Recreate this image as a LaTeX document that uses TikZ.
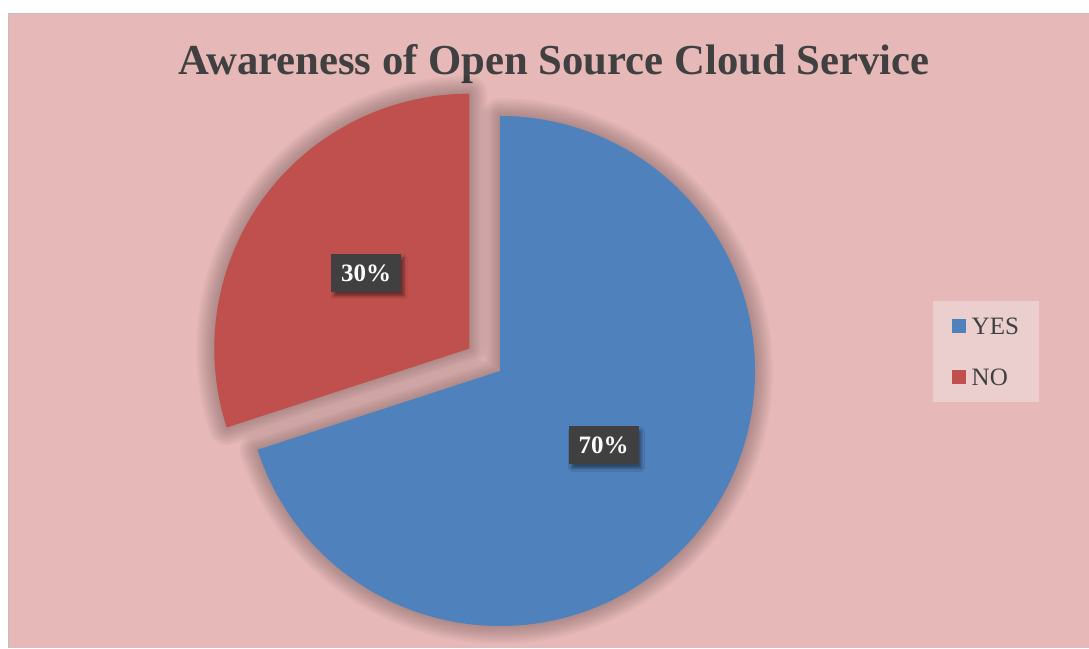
\documentclass[tikz,border=0pt]{standalone}
\usepackage{fontspec}
\setmainfont{Liberation Serif}
\usepackage{xcolor}
\usetikzlibrary{positioning, calc, shadows.blur}

\definecolor{chartbg}{HTML}{E6B8B7}
\definecolor{yesblue}{HTML}{4F81BD}
\definecolor{nored}{HTML}{C0504D}
\definecolor{inkgray}{HTML}{404040}
\definecolor{keybg}{HTML}{EBCFCF}
\definecolor{framegray}{HTML}{BFBFBF}

% slice outlines, centre at (500,277), radius 255
\newcommand\yesslice{(500,277) -- ++(90:255) arc[start angle=90, end angle=-162, radius=255] -- cycle}
\newcommand\noslice{($(500,277)+(144:38)$) -- ++(90:255) arc[start angle=90, end angle=198, radius=255] -- cycle}

\begin{document}
\begin{tikzpicture}[x=1pt, y=1pt,
		pctlabel/.style={fill=inkgray, text=white, font=\fontsize{25}{25}\selectfont\bfseries,
			minimum width=70pt, minimum height=38pt, inner sep=0pt,
			blur shadow={shadow xshift=3pt, shadow yshift=-4pt, shadow blur radius=3pt, shadow opacity=45}},
		keysquare/.style={fill=#1, minimum size=14pt, inner sep=0pt},
		keytext/.style={text=inkgray, font=\fontsize{25}{25}\selectfont, inner sep=0pt, anchor=base west},
		glow/.style={black, opacity=0.018, line width=#1, line join=round}]
	\useasboundingbox (0,0) rectangle (1089,648);
	
	% Chart area
	\fill[white] (0,0) rectangle (1089,648);
	\fill[chartbg] (8.5,0) rectangle (1089,634.5);
	\draw[framegray, line width=1.2pt] (8.5,0) -- (8.5,634.5) -- (1089,634.5);
	
	% Title
	\node[text=inkgray, font=\fontsize{42.7}{42.7}\selectfont\bfseries, anchor=base] (title) at (554,573)
		{Awareness of Open Source Cloud Service};
	
	% Soft shadow round both slices
	\foreach \w in {3,6,...,36} {
		\draw[glow=\w pt] \yesslice;
		\draw[glow=\w pt] \noslice;
	}
	
	% Pie: YES slice, NO slice pulled out
	\fill[yesblue] \yesslice;
	\fill[nored] \noslice;
	
	% Percent labels
	\node[pctlabel] (lblno) at (366,375) {30\%};
	\node[pctlabel] (lblyes) at (603.5,202.5) {70\%};
	
	% Legend
	\fill[keybg] (933,246) rectangle (1039,347);
	\node[keysquare=yesblue] (keyyes) at (959,322) {};
	\node[keysquare=nored] (keyno) at (959,271) {};
	\node[keytext] (txtyes) at (971.5,313) {YES};
	\node[keytext] (txtno) at (971.5,262) {NO};
	
\end{tikzpicture}
\end{document}
